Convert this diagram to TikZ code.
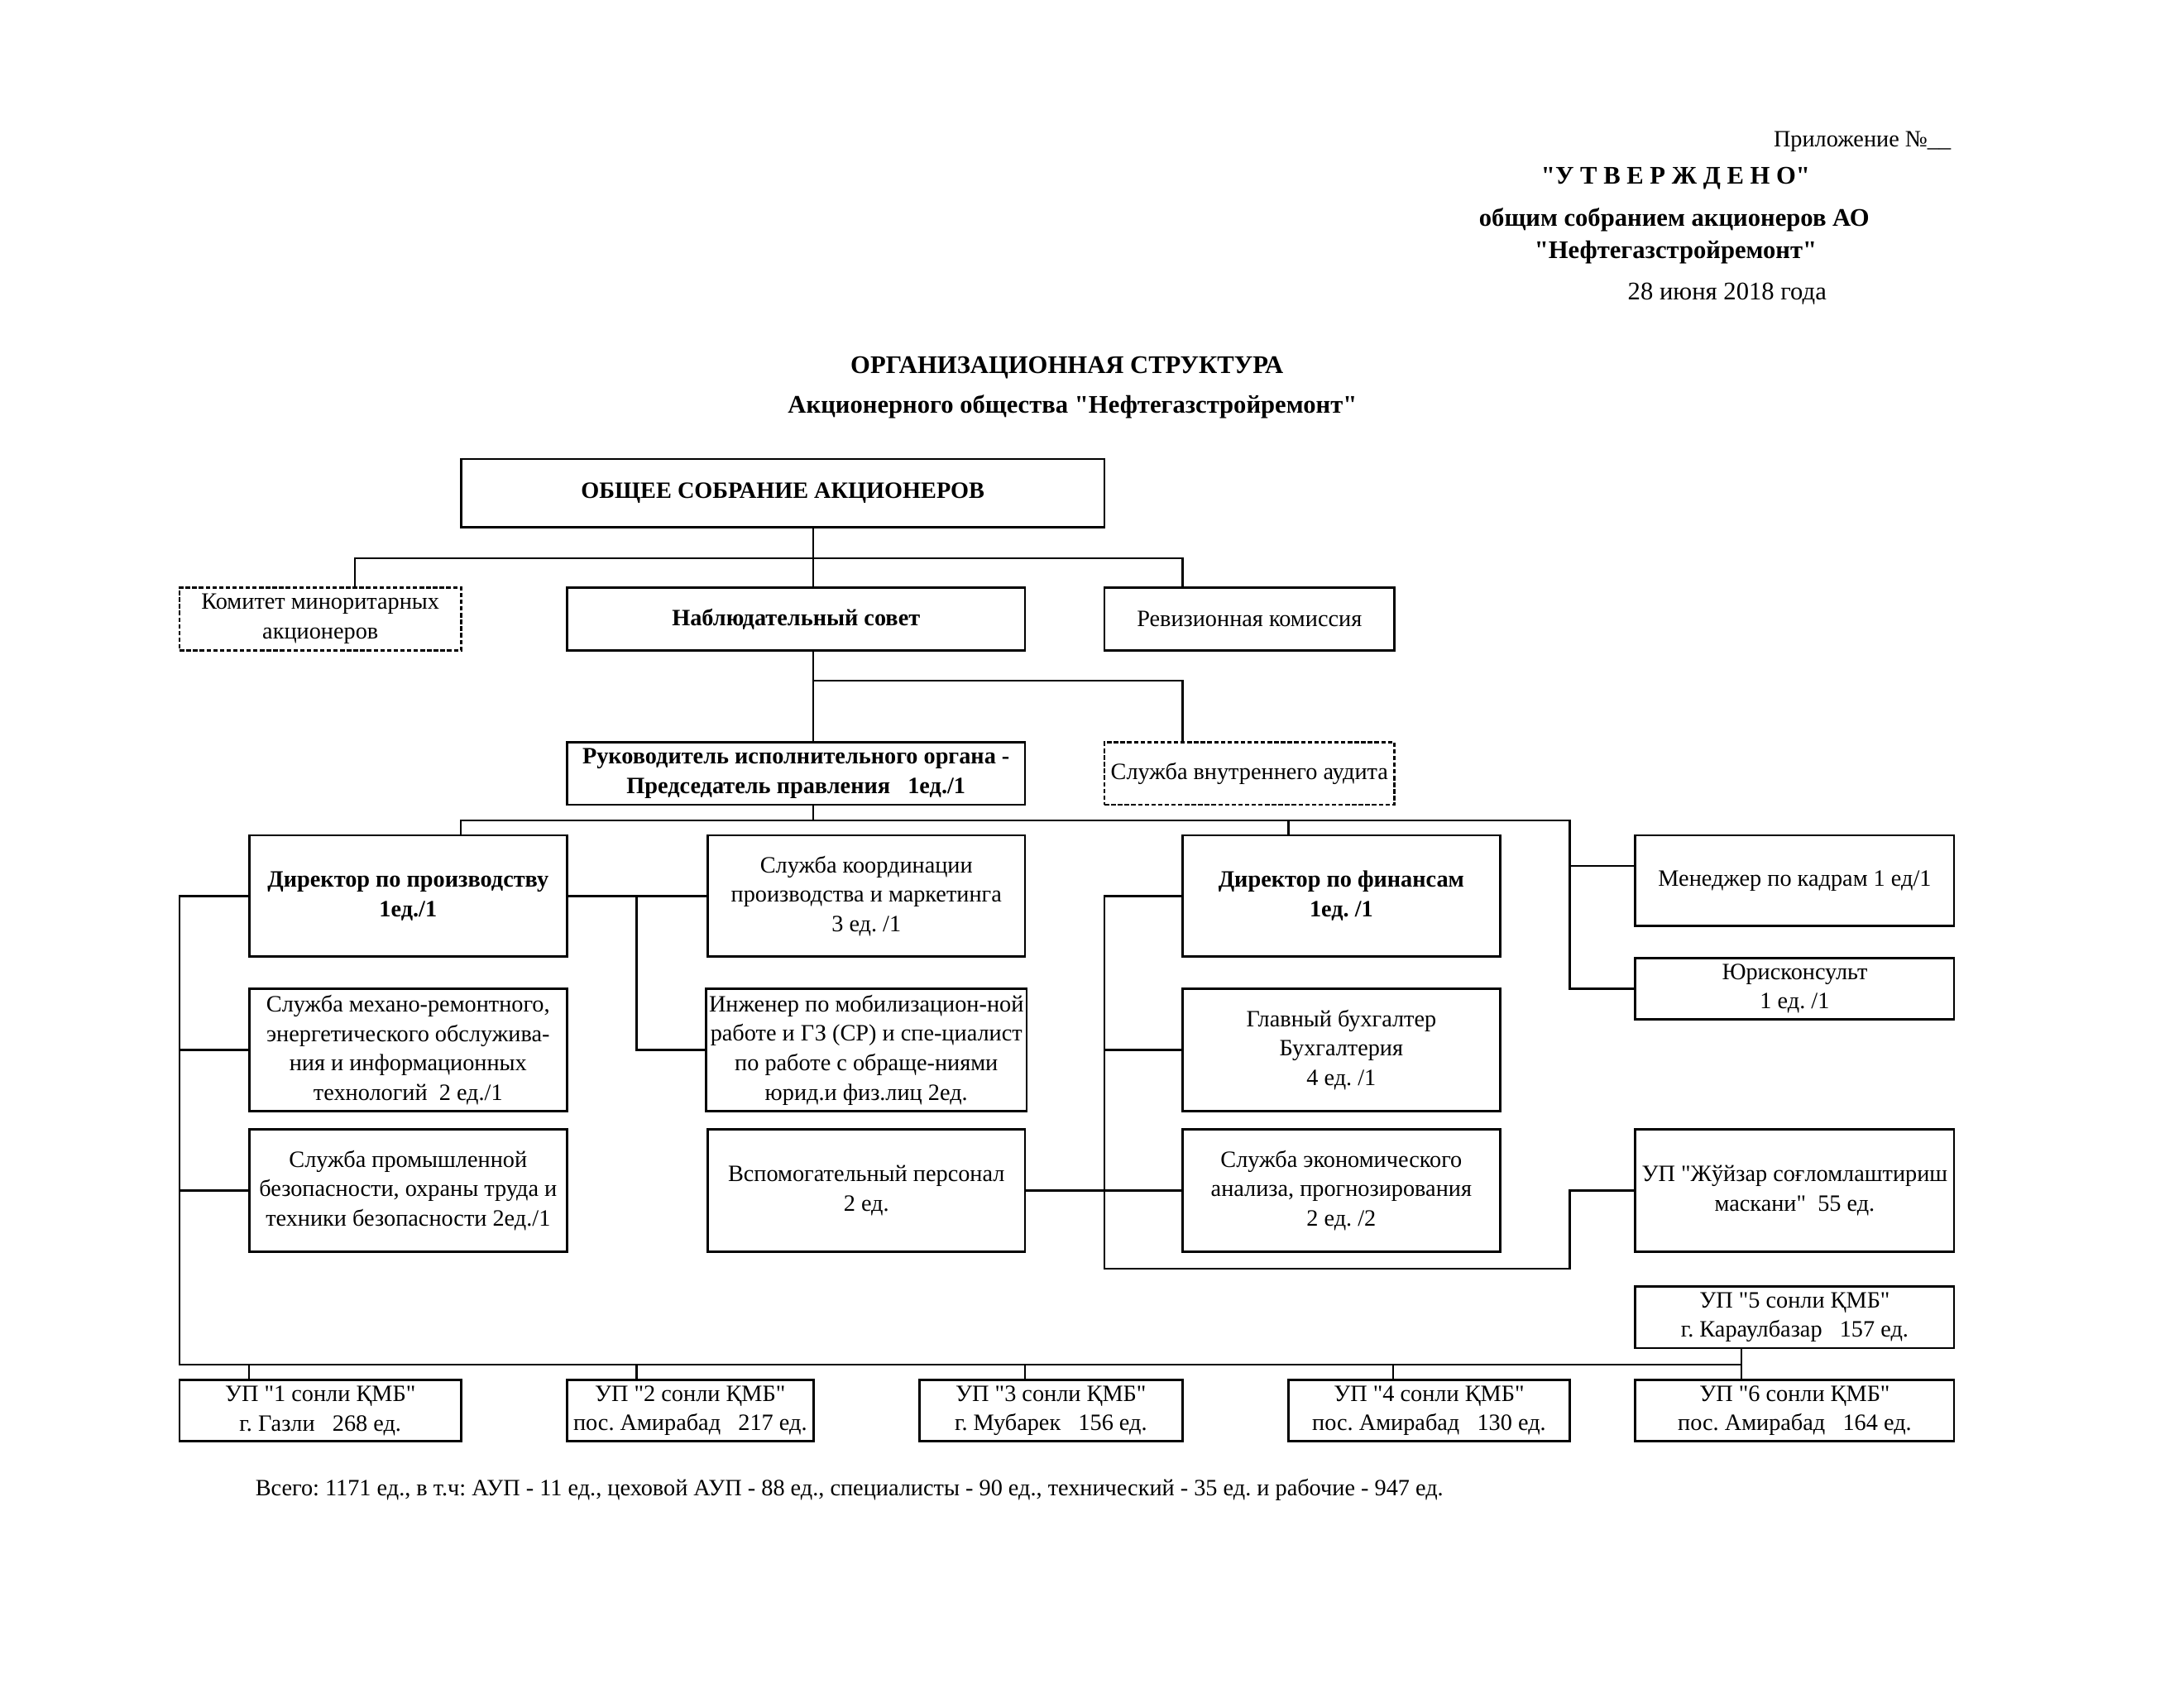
\documentclass[tikz,border=0pt]{standalone}
\usepackage{fontspec}
\setmainfont{Liberation Serif}[Ligatures=TeXOff]
\newcommand\boxfont{\fontsize{8.4}{10.6}\selectfont\frenchspacing}
\newcommand\headfont{\fontsize{9.1}{11.5}\selectfont\frenchspacing}
\begin{document}
\begin{tikzpicture}[x=0.5pt,y=-0.5pt,
  box/.style={draw, line width=0.75pt, inner sep=1pt, align=center, font=\boxfont},
  dbox/.style={box, dash pattern=on 1.6pt off 0.8pt},
  bbox/.style={box, font=\boxfont\bfseries},
  conn/.style={line width=0.65pt},
  txt/.style={inner sep=0pt, font=\headfont}]
\fill[white] (0,0) rectangle (1568,1212);
\useasboundingbox (0,0) rectangle (1568,1212);

% header
\node[txt, font=\boxfont, anchor=east] (pril) at (1401,102) {Приложение №\_\_};
\node[txt, font=\headfont\bfseries] (utv) at (1203,128) {"У Т В Е Р Ж Д Е Н О"};
\node[txt, font=\headfont\bfseries] (obsh) at (1202,158) {общим собранием акционеров АО};
\node[txt, font=\headfont\bfseries] (nef) at (1203,181) {"Нефтегазстройремонт"};
\node[txt] (date) at (1240,211) {28 июня 2018 года};
\node[txt, font=\headfont\bfseries] (t1) at (766,264) {ОРГАНИЗАЦИОННАЯ СТРУКТУРА};
\node[txt, font=\headfont\bfseries] (t2) at (770,292) {Акционерного общества "Нефтегазстройремонт"};

% boxes
\node[bbox, minimum width=231pt, minimum height=24.5pt] (gsa) at (562,354) {ОБЩЕЕ СОБРАНИЕ АКЦИОНЕРОВ};
\node[dbox, minimum width=101pt, minimum height=22.5pt] (kom) at (230,444.5) {Комитет миноритарных\\акционеров};
\node[bbox, minimum width=164.5pt, minimum height=22.5pt] (nab) at (571.5,444.5) {Наблюдательный совет};
\node[box, minimum width=104pt, minimum height=22.5pt] (rev) at (897,444.5) {Ревизионная комиссия};
\node[bbox, minimum width=164.5pt, minimum height=22.5pt] (ruk) at (571.5,555.5) {Руководитель исполнительного органа -\\Председатель правления \ \ 1ед./1};
\node[dbox, minimum width=104pt, minimum height=22.5pt] (aud) at (897,555.5) {Служба внутреннего аудита};

\node[bbox, minimum width=114pt, minimum height=43.5pt] (dpr) at (293,643.5) {Директор по производству\\1ед./1};
\node[box, minimum width=114pt, minimum height=43.5pt] (koord) at (622,643.5) {Служба координации\\производства и маркетинга\\3 ед. /1};
\node[bbox, minimum width=114pt, minimum height=43.5pt] (dfin) at (963,643.5) {Директор по финансам\\1ед. /1};
\node[box, minimum width=114.5pt, minimum height=32.5pt] (men) at (1288.5,632.5) {Менеджер по кадрам 1 ед/1};
\node[box, minimum width=114.5pt, minimum height=22pt] (yur) at (1288.5,710) {Юрисконсульт\\1 ед. /1};

\node[box, minimum width=114pt, minimum height=44pt] (meh) at (293,754) {Служба механо-ремонтного,\\энергетического обслужива-\\ния и информационных\\технологий \ 2 ед./1};
\node[box, minimum width=114pt, minimum height=44pt] (inzh) at (622,754) {Инженер по мобилизацион-ной\\работе и ГЗ (СР) и спе-циалист\\по работе с обраще-ниями\\юрид.и физ.лиц 2ед.};
\node[box, minimum width=114pt, minimum height=44pt] (glb) at (963,754) {Главный бухгалтер\\Бухгалтерия\\4 ед. /1};

\node[box, minimum width=114pt, minimum height=44pt] (prom) at (293,855) {Служба промышленной\\безопасности, охраны труда и\\техники безопасности 2ед./1};
\node[box, minimum width=114pt, minimum height=44pt] (vsp) at (622,855) {Вспомогательный персонал\\2 ед.};
\node[box, minimum width=114pt, minimum height=44pt] (econ) at (963,855) {Служба экономического\\анализа, прогнозирования\\2 ед. /2};
\node[box, minimum width=114.5pt, minimum height=44pt] (zhu) at (1288.5,855) {УП "Жўйзар соғломлаштириш\\маскани" \ 55 ед.};

\node[box, minimum width=114.5pt, minimum height=22pt] (up5) at (1288.5,946) {УП "5 сонли ҚМБ"\\г. Караулбазар \ \ 157 ед.};
\node[box, minimum width=101pt, minimum height=22pt] (up1) at (230,1013) {УП "1 сонли ҚМБ"\\г. Газли \ \ 268 ед.};
\node[box, minimum width=88.5pt, minimum height=22pt] (up2) at (495.5,1013) {УП "2 сонли ҚМБ"\\пос. Амирабад \ \ 217 ед.};
\node[box, minimum width=94.5pt, minimum height=22pt] (up3) at (754.5,1013) {УП "3 сонли ҚМБ"\\г. Мубарек \ \ 156 ед.};
\node[box, minimum width=101pt, minimum height=22pt] (up4) at (1026,1013) {УП "4 сонли ҚМБ"\\пос. Амирабад \ \ 130 ед.};
\node[box, minimum width=114.5pt, minimum height=22pt] (up6) at (1288.5,1013) {УП "6 сонли ҚМБ"\\пос. Амирабад \ \ 164 ед.};

\node[txt, font=\boxfont, anchor=west] (total) at (183,1070) {Всего: 1171 ед., в т.ч: АУП - 11 ед., цеховой АУП - 88 ед., специалисты - 90 ед., технический - 35 ед. и рабочие - 947 ед.};

% connectors
\coordinate (a1) at (584,401);
\coordinate (aL) at (255,401);
\coordinate (aR) at (849,401);
\draw[conn] (a1 |- gsa.south) -- (a1 |- nab.north);
\draw[conn] (aL |- kom.north) -- (aL) -- (aR) -- (aR |- rev.north);

\coordinate (b1) at (849,489);
\draw[conn] (a1 |- nab.south) -- (a1 |- ruk.north);
\draw[conn] (a1 |- b1) -- (b1) -- (b1 |- aud.north);

\coordinate (c0) at (584,589);
\coordinate (cL) at (331,589);
\coordinate (cF) at (925,589);
\coordinate (cR) at (1127,589);
\coordinate (m1) at (1127,622);
\draw[conn] (c0 |- ruk.south) -- (c0);
\draw[conn] (cL |- dpr.north) -- (cL) -- (cR) -- (cR |- yur.west) -- (yur.west);
\draw[conn] (cF) -- (cF |- dfin.north);
\draw[conn] (m1) -- (m1 -| men.west);

\coordinate (L) at (129,643.5);
\coordinate (B0) at (129,980);
\coordinate (B5) at (1250,980);
\draw[conn] (dpr.west) -- (L) -- (B0) -- (B5);
\draw[conn] (L |- meh.west) -- (meh.west);
\draw[conn] (L |- prom.west) -- (prom.west);

\coordinate (M) at (457,643.5);
\draw[conn] (dpr.east) -- (koord.west);
\draw[conn] (M) -- (M |- inzh.west) -- (inzh.west);

\coordinate (Fb) at (793,911);
\coordinate (Rb) at (1127,911);
\draw[conn] (dfin.west) -- (dfin.west -| Fb) -- (Fb) -- (Rb) -- (Rb |- zhu.west) -- (zhu.west);
\draw[conn] (Fb |- glb.west) -- (glb.west);
\draw[conn] (vsp.east) -- (econ.west);

\coordinate (k1) at (179,980);
\coordinate (k2) at (457,980);
\coordinate (k3) at (736,980);
\coordinate (k4) at (1000,980);
\draw[conn] (k1) -- (k1 |- up1.north);
\draw[conn] (k2) -- (k2 |- up2.north);
\draw[conn] (k3) -- (k3 |- up3.north);
\draw[conn] (k4) -- (k4 |- up4.north);
\draw[conn] (B5 |- up5.south) -- (B5 |- up6.north);
\end{tikzpicture}
\end{document}
